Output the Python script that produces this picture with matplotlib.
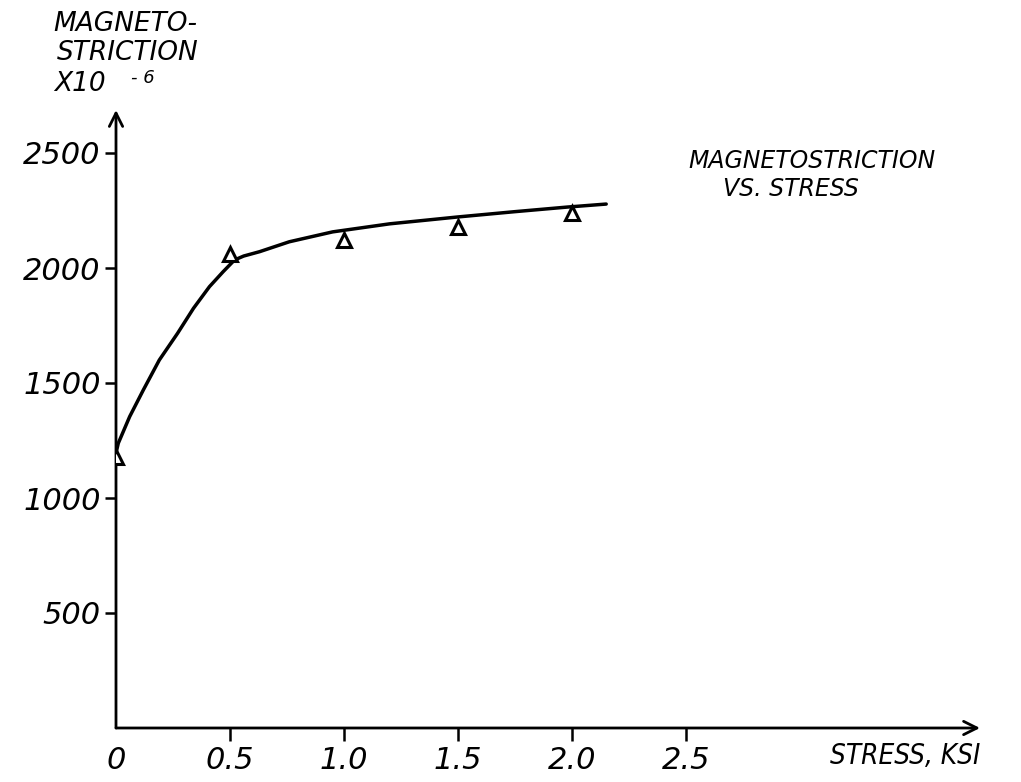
import matplotlib
matplotlib.use('Agg')
import matplotlib.pyplot as plt

# measured points (stress in ksi, magnetostriction x 10^-6)
stress_pts = [0.0, 0.5, 1.0, 1.5, 2.0]
mag_pts = [1180, 2060, 2120, 2180, 2240]

# hand-faired curve through the data
curve_x = [0.0, 0.01, 0.06, 0.12, 0.19, 0.27, 0.34, 0.41, 0.47, 0.52,
           0.56, 0.63, 0.76, 0.95, 1.2, 1.5, 1.75, 1.98, 2.15]
curve_y = [1195, 1238, 1354, 1470, 1600, 1716, 1825, 1919, 1984, 2035,
           2052, 2071, 2114, 2157, 2192, 2222, 2245, 2265, 2278]

yticks = [500, 1000, 1500, 2000, 2500]
ytick_labels = ['500', '1000', '1500', '2000', '2500']
xticks = [0.0, 0.5, 1.0, 1.5, 2.0, 2.5]
xtick_labels = ['0', '0.5', '1.0', '1.5', '2.0', '2.5']

W, H = 1021, 782
fig = plt.figure(figsize=(W / 100, H / 100), dpi=100)
x0, y0, x1, y1 = 116, 728, 980, 110
ax = fig.add_axes([x0 / W, (H - y0) / H, (x1 - x0) / W, (y0 - y1) / H])
ax.set_xlim(0, (x1 - x0) / 228)
ax.set_ylim(0, (y0 - y1) * 500 / 115)

for s in ax.spines.values():
    s.set_visible(False)

# axes drawn as arrows
arrow = dict(arrowstyle='->', lw=2.0, color='black', mutation_scale=24,
             shrinkA=0, shrinkB=0)
ax.annotate('', xy=(1, 0), xytext=(0, 0), xycoords='axes fraction', arrowprops=arrow)
ax.annotate('', xy=(0, 1), xytext=(0, 0), xycoords='axes fraction', arrowprops=arrow)

hand = dict(family='DejaVu Sans', style='italic', color='black')
narrow = dict(hand, stretch='condensed')

ax.set_yticks(yticks)
ax.set_yticklabels(ytick_labels, fontsize=22, **hand)
ax.set_xticks(xticks)
ax.set_xticklabels(xtick_labels, fontsize=22, **hand)
ax.tick_params(axis='y', direction='out', length=8, width=1.8, pad=3)
ax.tick_params(axis='x', direction='out', length=9, width=1.8, pad=4)
ax.xaxis.get_major_ticks()[0].tick1line.set_visible(False)

ax.plot(curve_x, curve_y, color='black', lw=2.5, solid_capstyle='round',
        solid_joinstyle='round')
ax.plot(stress_pts, mag_pts, linestyle='none', marker='^', markersize=10,
        markerfacecolor='white', markeredgecolor='black', markeredgewidth=2.2,
        zorder=3)

# axis captions
fig.text(980 / W, 1 - 756 / H, 'STRESS, KSI', ha='right', va='center',
         fontsize=20, **narrow)
fig.text(125 / W, 1 - 24 / H, 'MAGNETO-', ha='center', va='center', fontsize=19, **hand)
fig.text(128 / W, 1 - 53 / H, 'STRICTION', ha='center', va='center', fontsize=19, **hand)
fig.text(80 / W, 1 - 84 / H, 'X10', ha='center', va='center', fontsize=19, **hand)
fig.text(143 / W, 1 - 78 / H, '- 6', ha='center', va='center', fontsize=13, **hand)

fig.text(812 / W, 1 - 161 / H, 'MAGNETOSTRICTION', ha='center', va='center',
         fontsize=17, **hand)
fig.text(791 / W, 1 - 189 / H, 'VS. STRESS', ha='center', va='center',
         fontsize=17, **hand)

fig.savefig('out.png', dpi=100)
